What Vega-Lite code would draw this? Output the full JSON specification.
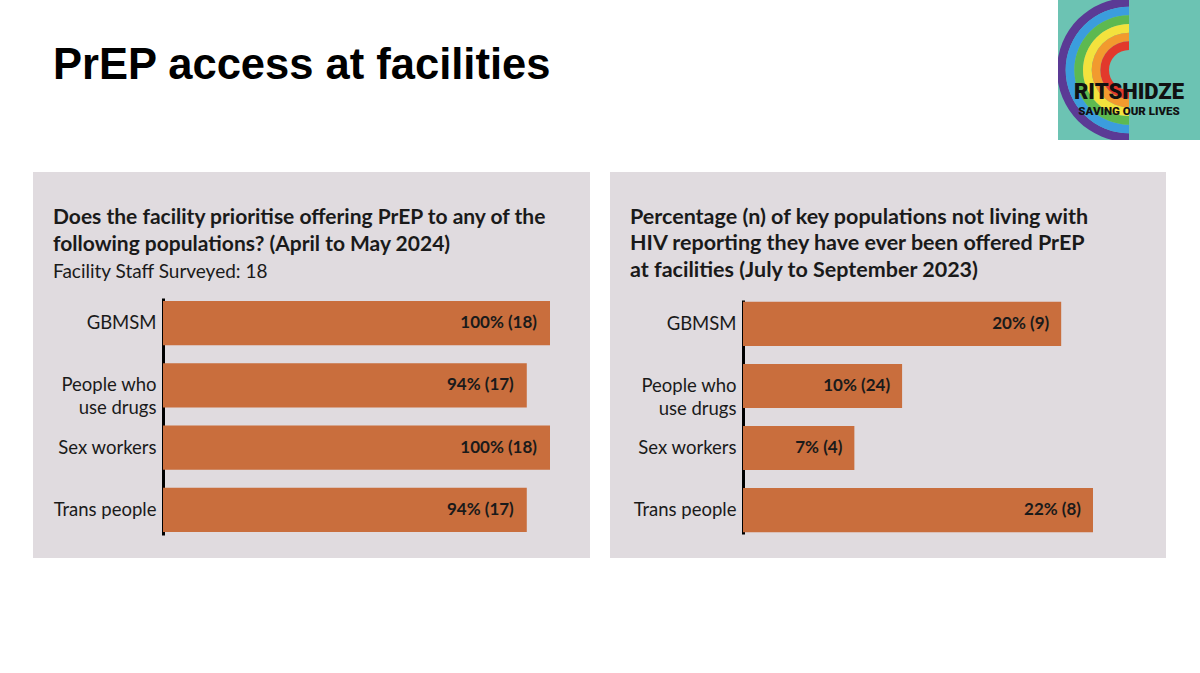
{
  "$schema": "https://vega.github.io/schema/vega-lite/v6.json",
  "background": "white",
  "padding": {"left": 33, "top": 0, "right": 0, "bottom": 0},
  "spacing": 32,
  "config": {
    "view": {"stroke": null},
    "font": "Lato",
    "axis": {"labelFont": "Lato"}
  },
  "vconcat": [
    {
      "spacing": 20,
      "hconcat": [
        {
          "width": 1005,
          "height": 140,
          "title": {
            "text": "PrEP access at facilities",
            "anchor": "start",
            "frame": "group",
            "orient": "top",
            "offset": -88,
            "dx": 20,
            "font": "Liberation Sans",
            "fontSize": 43.5,
            "fontWeight": "bold",
            "color": "black"
          },
          "data": {"values": [{"t": ""}]},
          "mark": {"type": "text"},
          "encoding": {"text": {"field": "t"}}
        },
        {
          "width": 142,
          "height": 140,
          "view": {"fill": "#6cc3b3", "stroke": null},
          "layer": [
            {
              "data": {"values": [
                {"band": "purple", "inner": 5, "outer": 6},
                {"band": "blue", "inner": 4, "outer": 5},
                {"band": "green", "inner": 3, "outer": 4},
                {"band": "yellow", "inner": 2, "outer": 3},
                {"band": "orange", "inner": 1, "outer": 2},
                {"band": "red", "inner": 0, "outer": 1}
              ]},
              "mark": {"type": "arc", "theta": 3.1416, "theta2": 6.2832, "clip": true},
              "encoding": {
                "radius": {"field": "outer", "type": "quantitative", "scale": {"type": "linear", "domain": [0, 6], "range": [20, 72], "zero": false}},
                "radius2": {"field": "inner"},
                "color": {
                  "field": "band",
                  "type": "nominal",
                  "scale": {"domain": ["purple", "blue", "green", "yellow", "orange", "red"], "range": ["#5b3a95", "#3b9ddd", "#5db950", "#f3e23d", "#f29a2e", "#e2392c"]},
                  "legend": null
                }
              }
            },
            {
              "data": {"values": [{"t": "RITSHIDZE"}]},
              "mark": {"type": "text", "dy": 22, "font": "Roboto", "fontSize": 22, "fontWeight": 900, "color": "#111111"},
              "encoding": {"text": {"field": "t"}}
            },
            {
              "data": {"values": [{"t": "SAVING OUR LIVES"}]},
              "mark": {"type": "text", "dy": 42, "font": "Roboto", "fontSize": 11.5, "fontWeight": 900, "color": "#111111"},
              "encoding": {"text": {"field": "t"}}
            }
          ]
        }
      ]
    },
    {
      "spacing": 20,
      "hconcat": [
        {
          "width": 557,
          "height": 386,
          "view": {"fill": "#e0dbdf", "stroke": null},
          "title": {
            "text": ["Does the facility prioritise offering PrEP to any of the", "following populations? (April to May 2024)"],
            "subtitle": "Facility Staff Surveyed: 18",
            "anchor": "start",
            "frame": "group",
            "offset": -110,
            "dx": 20,
            "font": "Lato",
            "fontSize": 21,
            "fontWeight": "bold",
            "lineHeight": 27,
            "color": "#1a1a1a",
            "subtitleFont": "Lato",
            "subtitleFontSize": 19,
            "subtitleColor": "#1a1a1a",
            "subtitlePadding": 8
          },
          "data": {"values": [
            {"group": "GBMSM", "pct": 100, "label": "100% (18)"},
            {"group": "People who use drugs", "pct": 94, "label": "94% (17)"},
            {"group": "Sex workers", "pct": 100, "label": "100% (18)"},
            {"group": "Trans people", "pct": 94, "label": "94% (17)"}
          ]},
          "encoding": {
            "y": {
              "field": "group",
              "type": "nominal",
              "sort": null,
              "scale": {"range": [126, 363], "paddingInner": 0.29, "paddingOuter": 0.05},
              "axis": {
                "title": null,
                "offset": -130,
                "domainColor": "black",
                "domainWidth": 3,
                "ticks": false,
                "labelFontSize": 18.5,
                "labelColor": "#1a1a1a",
                "labelPadding": 7,
                "labelLineHeight": 23,
                "labelExpr": "datum.value == 'People who use drugs' ? ['People who', 'use drugs'] : datum.label"
              }
            }
          },
          "layer": [
            {
              "mark": {"type": "bar", "color": "#c96e3d"},
              "encoding": {
                "x": {"field": "pct", "type": "quantitative", "scale": {"domain": [0, 100], "range": [130, 517]}, "axis": null}
              }
            },
            {
              "mark": {"type": "text", "align": "right", "baseline": "middle", "dx": -13, "fontSize": 17, "fontWeight": "bold", "color": "#1a1a1a"},
              "encoding": {
                "x": {"field": "pct", "type": "quantitative", "scale": {"domain": [0, 100], "range": [130, 517]}, "axis": null},
                "text": {"field": "label"}
              }
            }
          ]
        },
        {
          "width": 556,
          "height": 386,
          "view": {"fill": "#e0dbdf", "stroke": null},
          "title": {
            "text": ["Percentage (n) of key populations not living with", "HIV reporting they have ever been offered PrEP", "at facilities (July to September 2023)"],
            "anchor": "start",
            "frame": "group",
            "offset": -109,
            "dx": 20,
            "font": "Lato",
            "fontSize": 21.5,
            "fontWeight": "bold",
            "lineHeight": 26.5,
            "color": "#1a1a1a"
          },
          "data": {"values": [
            {"group": "GBMSM", "pct": 20, "label": "20% (9)"},
            {"group": "People who use drugs", "pct": 10, "label": "10% (24)"},
            {"group": "Sex workers", "pct": 7, "label": "7% (4)"},
            {"group": "Trans people", "pct": 22, "label": "22% (8)"}
          ]},
          "encoding": {
            "y": {
              "field": "group",
              "type": "nominal",
              "sort": null,
              "scale": {"range": [128, 362], "paddingInner": 0.29, "paddingOuter": 0.03},
              "axis": {
                "title": null,
                "offset": -133,
                "domainColor": "black",
                "domainWidth": 3,
                "ticks": false,
                "labelFontSize": 18.5,
                "labelColor": "#1a1a1a",
                "labelPadding": 7,
                "labelLineHeight": 23,
                "labelExpr": "datum.value == 'People who use drugs' ? ['People who', 'use drugs'] : datum.label"
              }
            }
          },
          "layer": [
            {
              "mark": {"type": "bar", "color": "#c96e3d"},
              "encoding": {
                "x": {"field": "pct", "type": "quantitative", "scale": {"domain": [0, 22], "range": [133, 483]}, "axis": null}
              }
            },
            {
              "mark": {"type": "text", "align": "right", "baseline": "middle", "dx": -12, "fontSize": 17, "fontWeight": "bold", "color": "#1a1a1a"},
              "encoding": {
                "x": {"field": "pct", "type": "quantitative", "scale": {"domain": [0, 22], "range": [133, 483]}, "axis": null},
                "text": {"field": "label"}
              }
            }
          ]
        }
      ]
    }
  ]
}
